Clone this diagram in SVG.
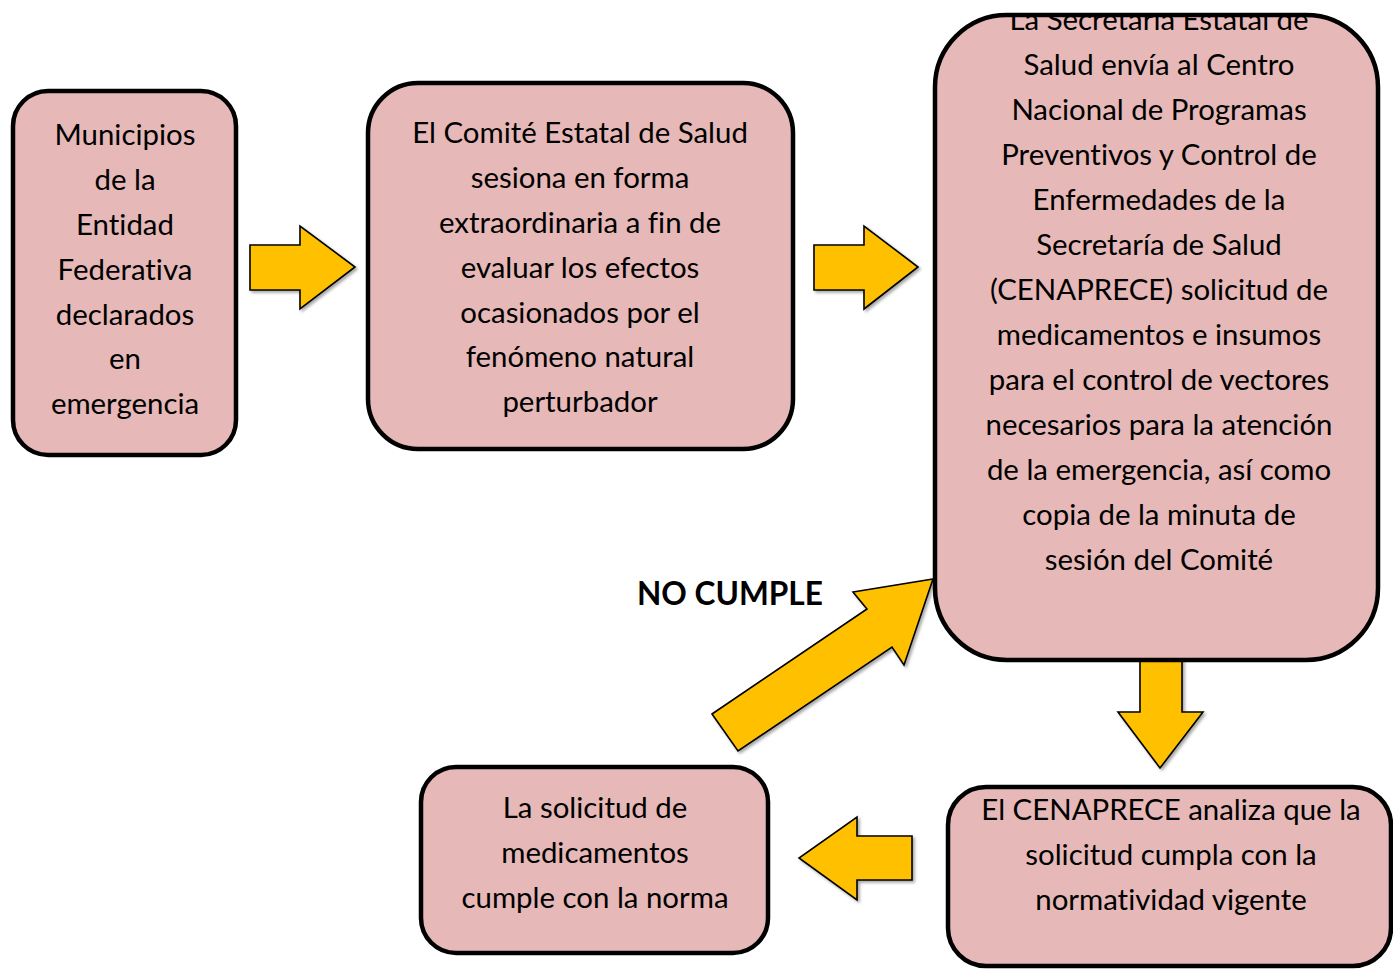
<svg xmlns="http://www.w3.org/2000/svg" width="1393" height="969" viewBox="0 0 1393 969">
<defs>
<style>
.box{fill:#E6B8B7;stroke:#000;stroke-width:4.5}
.arr{fill:#FFC000;stroke:#000;stroke-width:1.6;stroke-linejoin:miter;filter:url(#sh)}
.t{font-family:Lato,"Open Sans",sans-serif;font-size:29.4px;fill:#000;text-anchor:middle;font-variant-ligatures:none}
.b{font-family:Lato,"Open Sans",sans-serif;font-size:31.6px;font-weight:bold;fill:#000}
</style>
<filter id="sh" x="-20%" y="-20%" width="140%" height="140%">
<feDropShadow dx="2" dy="2" stdDeviation="1.5" flood-color="#000" flood-opacity="0.35"/>
</filter>
<clipPath id="c3"><rect x="930" y="14" width="460" height="660"/></clipPath>
</defs>
<g id="connectors">
<polygon class="arr" points="250,245 300,245 300,226 355,267 300,309 300,290 250,290"/>
<polygon class="arr" points="814,245 864,245 864,226 918,267 864,309 864,290 814,290"/>
<polygon class="arr" points="1140,655 1182,655 1182,712 1203,712 1160,768 1118,712 1140,712"/>
<polygon class="arr" points="912,836 857,836 857,817 799,858 857,900 857,880 912,880"/>
<polygon class="arr" points="712,714 867,609 853,592 933,579 904,665 892,647 738,751"/>
</g>
<g id="node1">
<rect class="box" x="13" y="91" width="223" height="364" rx="35"/>
<text class="t"><tspan x="125" y="145">Municipios</tspan><tspan x="125" y="190">de la</tspan><tspan x="125" y="235">Entidad</tspan><tspan x="125" y="280">Federativa</tspan><tspan x="125" y="325">declarados</tspan><tspan x="125" y="369">en</tspan><tspan x="125" y="414">emergencia</tspan></text>
</g>
<g id="node2">
<rect class="box" x="368" y="83" width="425" height="366" rx="50"/>
<text class="t"><tspan x="580" y="143">El Comité Estatal de Salud</tspan><tspan x="580" y="188">sesiona en forma</tspan><tspan x="580" y="233">extraordinaria a fin de</tspan><tspan x="580" y="278">evaluar los efectos</tspan><tspan x="580" y="323">ocasionados por el</tspan><tspan x="580" y="367">fenómeno natural</tspan><tspan x="580" y="412">perturbador</tspan></text>
</g>
<g id="node3">
<rect class="box" x="935" y="15" width="443" height="645" rx="72"/>
<text class="t" clip-path="url(#c3)"><tspan x="1159" y="30">La Secretaría Estatal de</tspan><tspan x="1159" y="75">Salud envía al Centro</tspan><tspan x="1159" y="120">Nacional de Programas</tspan><tspan x="1159" y="165">Preventivos y Control de</tspan><tspan x="1159" y="210">Enfermedades de la</tspan><tspan x="1159" y="255">Secretaría de Salud</tspan><tspan x="1159" y="300">(CENAPRECE) solicitud de</tspan><tspan x="1159" y="345">medicamentos e insumos</tspan><tspan x="1159" y="390">para el control de vectores</tspan><tspan x="1159" y="435">necesarios para la atención</tspan><tspan x="1159" y="480">de la emergencia, así como</tspan><tspan x="1159" y="525">copia de la minuta de</tspan><tspan x="1159" y="570">sesión del Comité</tspan></text>
</g>
<g id="node4">
<rect class="box" x="948" y="787" width="443" height="179" rx="38"/>
<text class="t"><tspan x="1171" y="820">El CENAPRECE analiza que la</tspan><tspan x="1171" y="865">solicitud cumpla con la</tspan><tspan x="1171" y="910">normatividad vigente</tspan></text>
</g>
<g id="node5">
<rect class="box" x="421" y="767" width="347" height="186" rx="35"/>
<text class="t"><tspan x="595" y="818">La solicitud de</tspan><tspan x="595" y="863">medicamentos</tspan><tspan x="595" y="908">cumple con la norma</tspan></text>
</g>
<g id="label">
<text class="b" x="637" y="605">NO CUMPLE</text>
</g>
</svg>
